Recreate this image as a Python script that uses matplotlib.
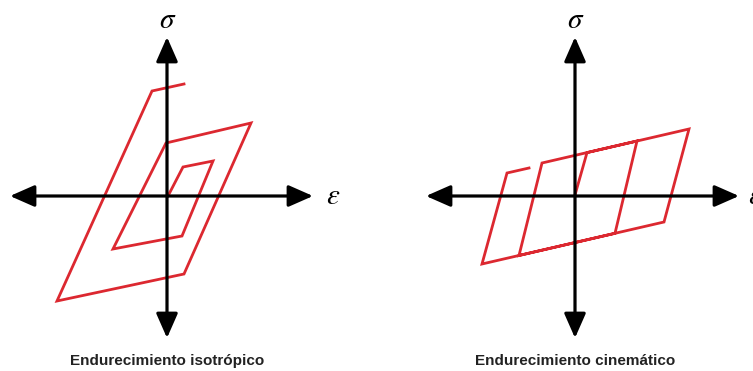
import numpy as np
import matplotlib
matplotlib.use('Agg')
import matplotlib.pyplot as plt

plt.rcParams['mathtext.fontset'] = 'stix'
plt.rcParams['font.family'] = ['Liberation Sans', 'DejaVu Sans']

# hysteresis paths (strain, stress), origin at the axes crossing
iso_eps = [1, 16, 46, 15, -54, -1, 84, 17, -110, -15, 17]
iso_sig = [0, 29, 35, -40, -53, 53, 73, -78, -105, 105, 112]

kin_eps = [0, 12, 62, 40, -56, -33, 114, 89, -93, -68, -46]
kin_sig = [1, 43.4, 55, -37.3, -59.5, 33, 67, -26, -68, 23, 28]

titles = ['Endurecimiento isotrópico', 'Endurecimiento cinemático']
red = '#dc2830'

W, H = 753, 371
fig = plt.figure(figsize=(W / 100, H / 100), dpi=100)

# axes set so one data unit = one pixel
panels = [
    # left px, width px, origin x px, x arrow ends, eps label x
    (0, 376, 167, (-157, 146), 166, iso_eps, iso_sig, titles[0]),
    (376, 377, 575, (-149, 164), 180, kin_eps, kin_sig, titles[1]),
]
oy = 196
for left, width, ox, (xa, xb), eps_x, xs, ys, title in panels:
    ax = fig.add_axes([left / W, 0, width / W, 1])
    ax.set_xlim(left - ox, left + width - ox)
    ax.set_ylim(oy - H, oy)
    ax.axis('off')

    arrow = dict(arrowstyle='<|-|>,head_length=0.75,head_width=0.33',
                 mutation_scale=20, lw=2.3, color='black',
                 shrinkA=0, shrinkB=0)
    ax.annotate('', xy=(xb, 0), xytext=(xa, 0), arrowprops=arrow)
    ax.annotate('', xy=(0, 159), xytext=(0, -142), arrowprops=arrow)

    ax.plot(xs, ys, color=red, lw=2.0, solid_joinstyle='miter')

    ax.text(1, 176, r'$\sigma$', fontsize=21, ha='center', va='center')
    ax.text(eps_x, 0, r'$\varepsilon$', fontsize=21, ha='center', va='center')
    ax.text(0, -165, title, fontsize=11, fontweight='bold', ha='center',
            va='center', color='#222222')

fig.savefig('out.png', dpi=100)
